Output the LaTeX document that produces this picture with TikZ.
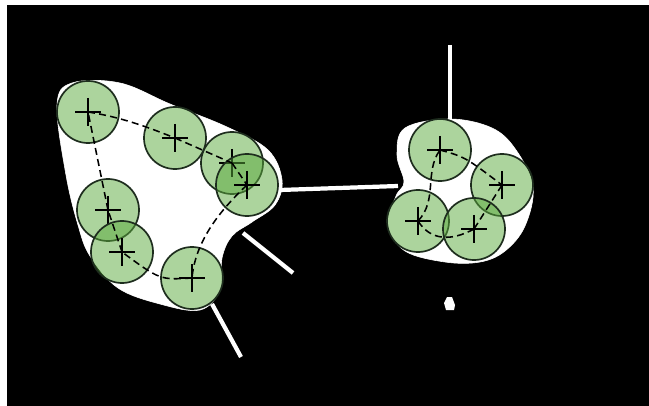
\documentclass[tikz,border=0pt]{standalone}
\usepackage{tikz}
\usetikzlibrary{positioning}
\definecolor{cellgreen}{RGB}{90,170,60}
\definecolor{cellline}{RGB}{30,45,30}
\tikzstyle{cell} = [
    circle,
    minimum size=1.55cm,
    inner sep=0pt,
    draw=cellline,
    line width=1.2pt,
    fill=cellgreen,
    fill opacity=0.5,
    path picture={
        \draw [black, line width=1.1pt]
            (path picture bounding box.center) +(-13,0) -- +(13,0)
            (path picture bounding box.center) +(0,-14) -- +(0,14);
    }
]
\tikzstyle{link} = [dashed, line width=1.1pt, dash pattern=on 5pt off 3pt, black]
\tikzstyle{stem} = [white, line width=3pt]
\tikzstyle{blob} = [fill=white, draw=white]

\begin{document}
\begin{tikzpicture}[x=0.025cm, y=-0.025cm]

\useasboundingbox (0,0) rectangle (649,406);
\fill [white] (0,0) rectangle (649,406);
\fill [black] (7,5) rectangle (649,406);

% white areas round the two clusters
\draw [blob] plot [smooth cycle, tension=0.6] coordinates {
    (57,105) (72,83) (120,83) (170,104) (227,127) (268,150) (282,180)
    (275,205) (252,222) (232,236) (222,258) (220,290) (200,310)
    (160,304) (118,288) (90,256) (78,225) (66,175)};
\draw [blob] plot [smooth cycle, tension=0.6] coordinates {
    (405,128) (450,119) (492,128) (516,150) (533,187) (525,226)
    (505,251) (480,262) (445,262) (405,251) (388,225) (396,196)
    (404,182) (397,155)};

% free ends of the white lines
\coordinate (topA) at (450,45);
\coordinate (topB) at (450,121);
\coordinate (bridgeL) at (280,190);
\coordinate (bridgeR) at (398,186);
\coordinate (legA) at (243,233);
\coordinate (legB) at (293,273);
\coordinate (footA) at (212,304);
\coordinate (footB) at (241,357);

\draw [stem] (topA) -- (topB);
\draw [stem] (bridgeL) -- (bridgeR);
\draw [stem] (legA) -- (legB);
\draw [stem] (footA) -- (footB);

\fill [white] (447,297) -- (452,297) -- (455,305) -- (454,310)
    -- (446,310) -- (444,303) -- cycle;

% left cluster
\node (c1) [cell] at (88,112) {};
\node (c2) [cell] at (175,138) {};
\node (c3) [cell] at (232,163) {};
\node (c4) [cell] at (247,185) {};
\node (c5) [cell] at (108,210) {};
\node (c6) [cell] at (122,252) {};
\node (c7) [cell] at (192,278) {};

% right cluster
\node (c8) [cell] at (440,150) {};
\node (c9) [cell] at (502,185) {};
\node (c10) [cell] at (418,221) {};
\node (c11) [cell] at (474,229) {};

\draw [link] (c1.center) .. controls (120,117) and (145,126) .. (c2.center);
\draw [link] (c2.center) -- (c3.center);
\draw [link] (c3.center) -- (c4.center);
\draw [link] (c4.center) .. controls (215,215) and (195,245) .. (c7.center);
\draw [link] (c7.center) .. controls (160,280) .. (c6.center);
\draw [link] (c6.center) -- (c5.center);
\draw [link] (c5.center) -- (c1.center);

\draw [link] (c8.center) .. controls (465,157) .. (c9.center);
\draw [link] (c9.center) -- (c11.center);
\draw [link] (c11.center) .. controls (450,242) and (430,240) .. (c10.center);
\draw [link] (c10.center) .. controls (438,200) and (424,172) .. (c8.center);

\end{tikzpicture}
\end{document}
